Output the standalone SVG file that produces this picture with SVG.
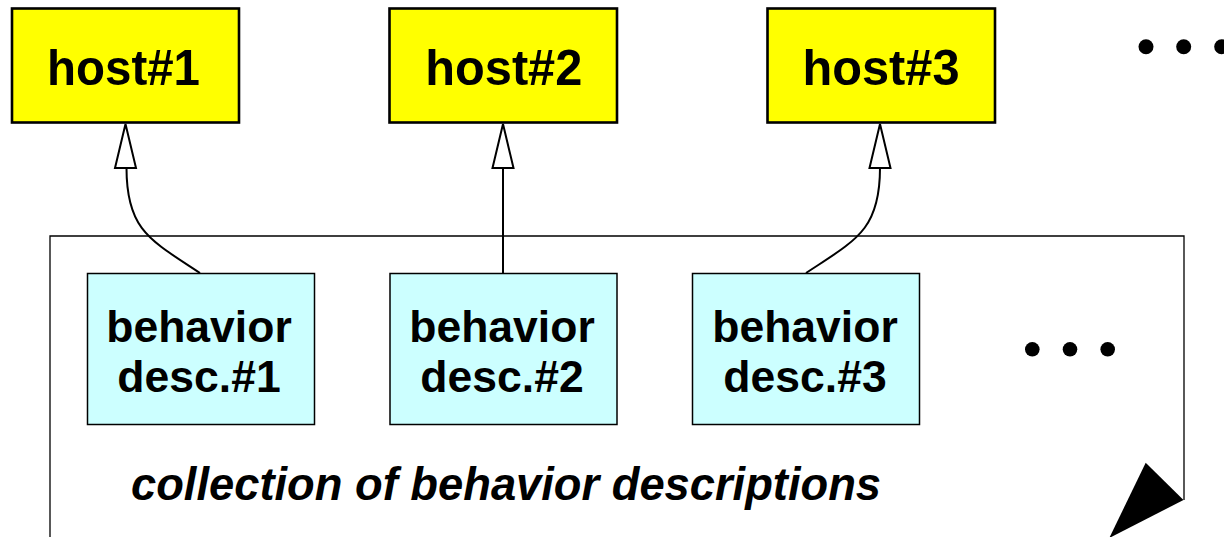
<svg xmlns="http://www.w3.org/2000/svg" width="1224" height="537" viewBox="0 0 1224 537">
  <style>
    .host rect { fill: #ffff00; stroke: #000; stroke-width: 2.6; }
    .desc rect { fill: #ccffff; stroke: #000; stroke-width: 1.5; }
    .lbl { font-family: "Liberation Sans", Arial, sans-serif; font-weight: bold; fill: #000; text-anchor: middle; }
    .host text { font-size: 50.5px; }
    .desc text { font-size: 44.5px; }
    .caption { font-family: "Liberation Sans", Arial, sans-serif; font-weight: bold; font-style: italic; font-size: 45.3px; fill: #000; }
    .edge { fill: none; stroke: #000; stroke-width: 2; }
    .head { fill: #fff; stroke: #000; stroke-width: 2; }
    .frame { fill: none; stroke: #000; stroke-width: 1.3; }
    .dot { fill: #000; }
  </style>

  <rect width="1224" height="537" fill="#fff"/>

  <!-- container frame with its folded corner -->
  <g id="collection">
    <path class="frame" d="M50,545 L50,236 L1184,236 L1184,500"/>
    <path d="M1145.7,462.7 L1183.5,500 L1109.3,538 Z" fill="#000"/>
    <text class="caption" x="131" y="500">collection of behavior descriptions</text>
  </g>

  <!-- connectors: hollow arrowheads point at the hosts -->
  <g id="connectors">
    <path class="edge" d="M200,273 C150,240 126.5,230 126.5,168"/>
    <path class="edge" d="M503,273 L503,168"/>
    <path class="edge" d="M806,273 C856,240 880,230 880,168"/>
    <path class="head" d="M125.5,124 L136,168 L115,168 Z"/>
    <path class="head" d="M503,124 L513.5,168 L492.5,168 Z"/>
    <path class="head" d="M880,124 L890.5,168 L869.5,168 Z"/>
  </g>

  <!-- hosts -->
  <g id="host1" class="host">
    <rect x="12" y="8.5" width="227" height="114"/>
    <text class="lbl" x="123.5" y="85" textLength="153" lengthAdjust="spacingAndGlyphs">host#1</text>
  </g>
  <g id="host2" class="host">
    <rect x="389.5" y="8.5" width="227.5" height="114"/>
    <text class="lbl" x="503.8" y="85" textLength="157" lengthAdjust="spacingAndGlyphs">host#2</text>
  </g>
  <g id="host3" class="host">
    <rect x="767.5" y="8.5" width="227.5" height="114"/>
    <text class="lbl" x="881" y="85" textLength="157" lengthAdjust="spacingAndGlyphs">host#3</text>
  </g>
  <g id="host-more">
    <circle class="dot" cx="1146" cy="46.7" r="7.5"/>
    <circle class="dot" cx="1183.7" cy="46.7" r="7.5"/>
    <circle class="dot" cx="1221.7" cy="46.7" r="7.5"/>
  </g>

  <!-- behavior descriptions -->
  <g id="desc1" class="desc">
    <rect x="87.5" y="273.5" width="227" height="151"/>
    <text class="lbl" x="199" y="341.5">behavior</text>
    <text class="lbl" x="199" y="391.5">desc.#1</text>
  </g>
  <g id="desc2" class="desc">
    <rect x="390" y="273.5" width="227" height="151"/>
    <text class="lbl" x="502" y="341.5">behavior</text>
    <text class="lbl" x="502" y="391.5">desc.#2</text>
  </g>
  <g id="desc3" class="desc">
    <rect x="692.5" y="273.5" width="227" height="151"/>
    <text class="lbl" x="805" y="341.5">behavior</text>
    <text class="lbl" x="805" y="391.5">desc.#3</text>
  </g>
  <g id="desc-more">
    <circle class="dot" cx="1032.3" cy="349.3" r="7.3"/>
    <circle class="dot" cx="1070" cy="349.3" r="7.3"/>
    <circle class="dot" cx="1107.7" cy="349.3" r="7.3"/>
  </g>
</svg>
